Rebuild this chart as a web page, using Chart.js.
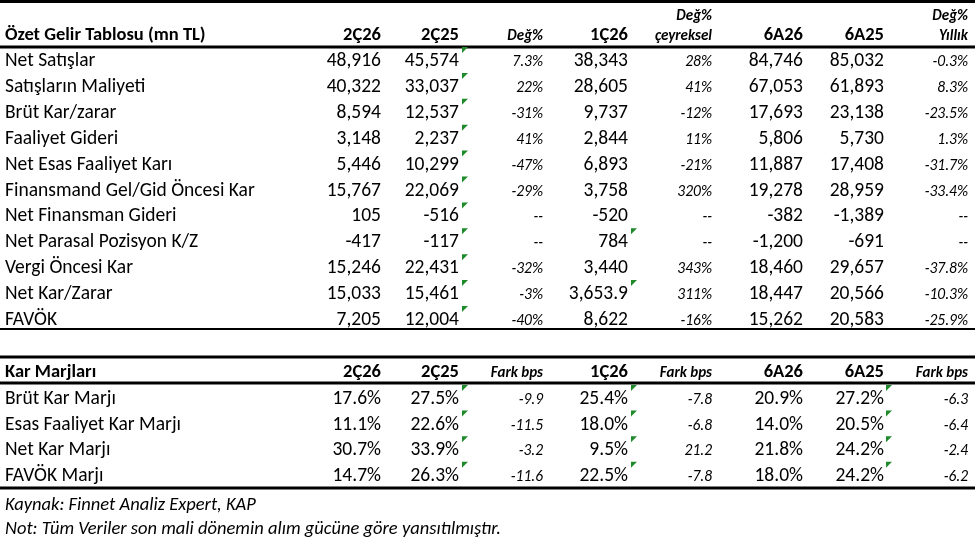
<!DOCTYPE html>
<html>
<head>
<meta charset="utf-8">
<script src="https://cdn.jsdelivr.net/npm/chart.js@4"></script>
<style>
  body { margin: 0; background: #fff; }
  #wrap { width: 975px; height: 542px; }
</style>
</head>
<body>
<div id="wrap"><canvas id="tableChart"></canvas></div>
<script>
// Income table data
const incomeTitle = 'Özet Gelir Tablosu (mn TL)';
const incomeHeaders = ['2Ç26', '2Ç25', 'Değ%', '1Ç26', 'Değ%|çeyreksel', '6A26', '6A25', 'Değ%|Yıllık'];
const incomeRows = ['Net Satışlar', 'Satışların Maliyeti', 'Brüt Kar/zarar', 'Faaliyet Gideri', 'Net Esas Faaliyet Karı',
  'Finansmand Gel/Gid Öncesi Kar', 'Net Finansman Gideri', 'Net Parasal Pozisyon K/Z', 'Vergi Öncesi Kar', 'Net Kar/Zarar', 'FAVÖK'];
const q2_26 = ['48,916', '40,322', '8,594', '3,148', '5,446', '15,767', '105', '-417', '15,246', '15,033', '7,205'];
const q2_25 = ['45,574', '33,037', '12,537', '2,237', '10,299', '22,069', '-516', '-117', '22,431', '15,461', '12,004'];
const chgYoY = ['7.3%', '22%', '-31%', '41%', '-47%', '-29%', '--', '--', '-32%', '-3%', '-40%'];
const q1_26 = ['38,343', '28,605', '9,737', '2,844', '6,893', '3,758', '-520', '784', '3,440', '3,653.9', '8,622'];
const chgQoQ = ['28%', '41%', '-12%', '11%', '-21%', '320%', '--', '--', '343%', '311%', '-16%'];
const h1_26 = ['84,746', '67,053', '17,693', '5,806', '11,887', '19,278', '-382', '-1,200', '18,460', '18,447', '15,262'];
const h1_25 = ['85,032', '61,893', '23,138', '5,730', '17,408', '28,959', '-1,389', '-691', '29,657', '20,566', '20,583'];
const chgH = ['-0.3%', '8.3%', '-23.5%', '1.3%', '-31.7%', '-33.4%', '--', '--', '-37.8%', '-10.3%', '-25.9%'];

// Margin table data
const marginTitle = 'Kar Marjları';
const marginHeaders = ['2Ç26', '2Ç25', 'Fark bps', '1Ç26', 'Fark bps', '6A26', '6A25', 'Fark bps'];
const marginRows = ['Brüt Kar Marjı', 'Esas Faaliyet Kar Marjı', 'Net Kar Marjı', 'FAVÖK Marjı'];
const m2_26 = ['17.6%', '11.1%', '30.7%', '14.7%'];
const m2_25 = ['27.5%', '22.6%', '33.9%', '26.3%'];
const mChgYoY = ['-9.9', '-11.5', '-3.2', '-11.6'];
const m1_26 = ['25.4%', '18.0%', '9.5%', '22.5%'];
const mChgQoQ = ['-7.8', '-6.8', '21.2', '-7.8'];
const mH1_26 = ['20.9%', '14.0%', '21.8%', '18.0%'];
const mH1_25 = ['27.2%', '20.5%', '24.2%', '24.2%'];
const mChgH = ['-6.3', '-6.4', '-2.4', '-6.2'];

const notes = ['Kaynak: Finnet Analiz Expert, KAP', 'Not: Tüm Veriler son mali dönemin alım gücüne göre yansıtılmıştır.'];

// layout (scale units = pixels of the 975x542 frame)
const colRight = [381, 459, 543, 628, 712, 803, 884, 968];
const italicCols = [2, 4, 7];
const FONT = 'Carlito, Lato, "Open Sans", sans-serif';

const tablePlugin = {
  id: 'tablePlugin',
  afterDraw(chart) {
    const ctx = chart.ctx;
    const X = v => chart.scales.x.getPixelForValue(v);
    const Y = v => chart.scales.y.getPixelForValue(v);
    ctx.save();
    ctx.textBaseline = 'alphabetic';

    const hline = (y, w) => {
      ctx.fillStyle = '#000';
      ctx.fillRect(X(0), Y(y) - w / 2, X(975) - X(0), w);
    };
    const tri = (x, y) => {
      ctx.fillStyle = '#1f8a2a';
      ctx.beginPath();
      ctx.moveTo(X(x), Y(y));
      ctx.lineTo(X(x + 6), Y(y));
      ctx.lineTo(X(x), Y(y + 6));
      ctx.closePath();
      ctx.fill();
    };
    const text = (s, x, y, font, align) => {
      ctx.fillStyle = '#000';
      ctx.font = font;
      ctx.textAlign = align;
      ctx.fillText(s, X(x), Y(y));
    };

    const drawTable = (title, headers, rows, cols, y0, headerY, lineA, lineB, rowH, triCols) => {
      hline(lineA, 3);
      text(title, 5, headerY, 'bold 18.5px ' + FONT, 'left');
      headers.forEach((h, i) => {
        const italic = italicCols.includes(i);
        const parts = h.split('|');
        if (parts.length === 2) {
          text(parts[0], colRight[i], headerY - 20, 'italic bold 15px ' + FONT, 'right');
          text(parts[1], colRight[i], headerY, 'italic bold 15px ' + FONT, 'right');
        } else {
          text(h, colRight[i], headerY, italic ? 'italic bold 15px ' + FONT : 'bold 18.5px ' + FONT, 'right');
        }
      });
      hline(lineB, 3);
      rows.forEach((r, ri) => {
        const y = y0 + ri * rowH;
        text(r, 5, y, '19.5px ' + FONT, 'left');
        cols.forEach((c, ci) => {
          const italic = italicCols.includes(ci);
          text(c[ri], colRight[ci], y, italic ? 'italic 15.5px ' + FONT : '19.5px ' + FONT, 'right');
        });
        triCols(ri).forEach(x => tri(x, y - 19));
      });
    };

    drawTable(incomeTitle, incomeHeaders, incomeRows,
      [q2_26, q2_25, chgYoY, q1_26, chgQoQ, h1_26, h1_25, chgH],
      66, 40, 1.5, 47, 25.9,
      ri => (ri === 7 || ri === 9) ? [462, 631] : [462]);
    hline(329, 2);

    drawTable(marginTitle, marginHeaders, marginRows,
      [m2_26, m2_25, mChgYoY, m1_26, mChgQoQ, mH1_26, mH1_25, mChgH],
      404, 377, 357, 383, 25.6,
      () => [462, 631, 886]);
    hline(488, 3);

    text(notes[0], 5, 510, 'italic 18.5px ' + FONT, 'left');
    text(notes[1], 5, 534, 'italic 18.5px ' + FONT, 'left');
    ctx.restore();
  }
};

new Chart(document.getElementById('tableChart').getContext('2d'), {
  type: 'scatter',
  data: { datasets: [{ data: [], pointRadius: 0 }] },
  options: {
    responsive: true,
    maintainAspectRatio: false,
    animation: false,
    layout: { padding: 0 },
    plugins: { legend: { display: false }, tooltip: { enabled: false } },
    scales: {
      x: { type: 'linear', min: 0, max: 975, display: false },
      y: { type: 'linear', min: 0, max: 542, reverse: true, display: false }
    }
  },
  plugins: [tablePlugin]
});
</script>
</body>
</html>
